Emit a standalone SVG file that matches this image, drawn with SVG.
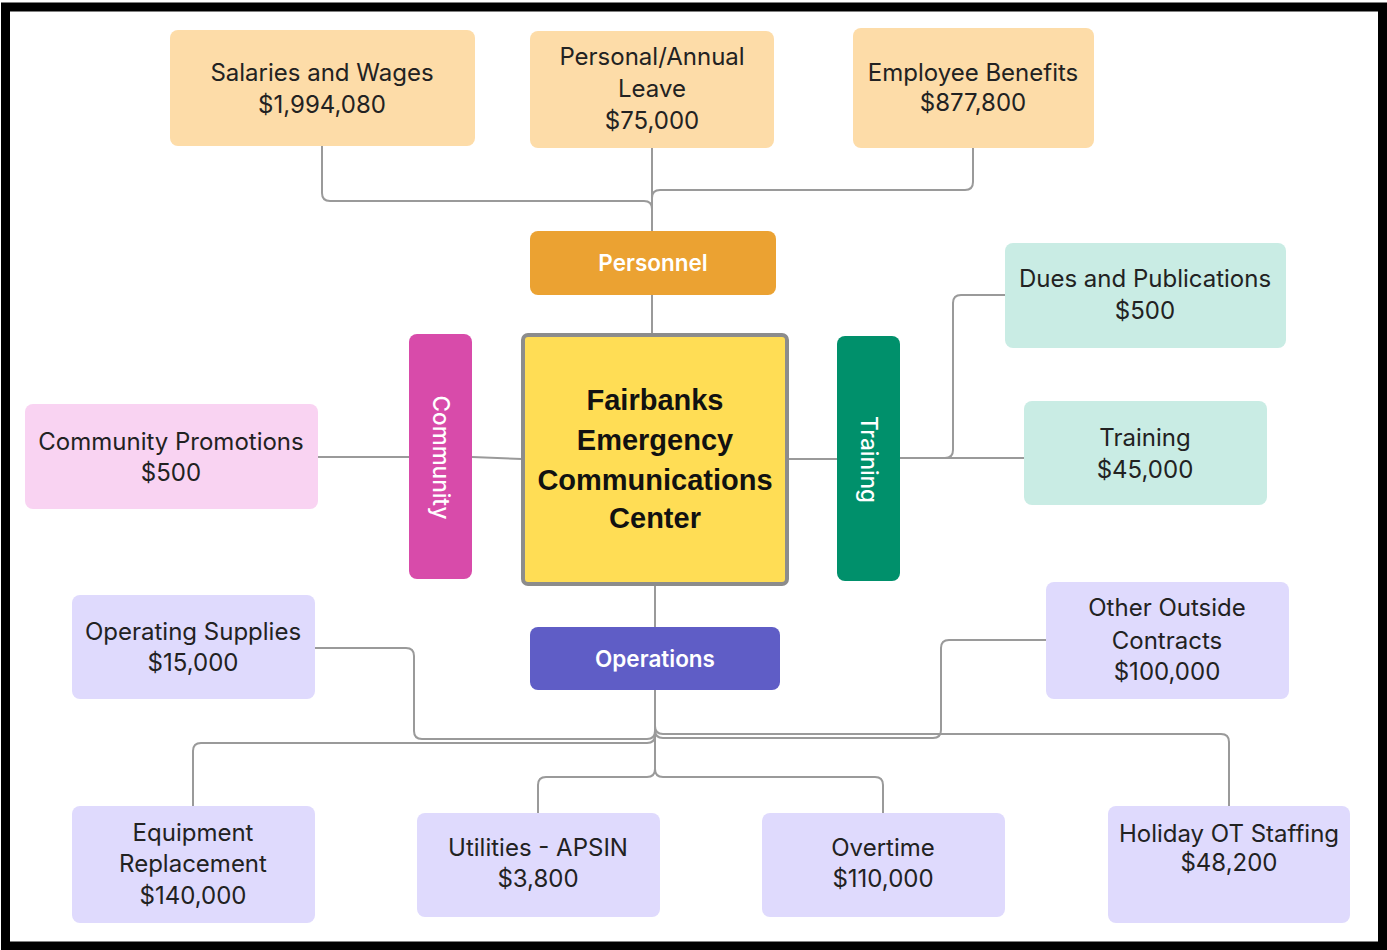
<svg xmlns="http://www.w3.org/2000/svg" width="1387" height="950" viewBox="0 0 1387 950">
<style>
.t{font-family:Inter,"Noto Sans","Liberation Sans",sans-serif;font-size:24px;fill:#222;text-anchor:middle}
.w{font-family:Inter,"Noto Sans","Liberation Sans",sans-serif;font-size:22.5px;font-weight:600;fill:#fff;text-anchor:middle}
.v{font-family:Inter,"Noto Sans","Liberation Sans",sans-serif;font-size:22.5px;font-weight:500;fill:#fff;text-anchor:middle}
.c{font-family:"Liberation Sans",Arial,sans-serif;font-size:29px;font-weight:bold;fill:#111;text-anchor:middle}
.pe{fill:#FDDCA8}
.mi{fill:#C9ECE4}
.pk{fill:#F9D3F2}
.la{fill:#DFDAFD}
.cn path{fill:none;stroke:#9a9a9a;stroke-width:2}
</style>
<rect x="0" y="0" width="1387" height="950" fill="#fff"/>
<rect x="5.5" y="7" width="1377" height="939" fill="none" stroke="#000" stroke-width="9"/>

<g class="cn" id="connectors">
<path d="M322,146 V193 Q322,201 330,201 H644 Q652,201 652,209 V231"/>
<path d="M652,148 V231"/>
<path d="M973,148 V182 Q973,190 965,190 H660 Q652,190 652,198 V231"/>
<path d="M652,295 V333"/>
<path d="M788,459 H837"/>
<path d="M900,458 H1024"/>
<path d="M900,458 H945 Q953,458 953,450 V303 Q953,295 961,295 H1005"/>
<path d="M522,459 L472,457"/>
<path d="M409,457 H318"/>
<path d="M655,586 V627"/>
<path d="M655,690 V731 Q655,739 647,739 H422 Q414,739 414,731 V656 Q414,648 406,648 H315"/>
<path d="M655,690 V735 Q655,743 647,743 H201 Q193,743 193,751 V806"/>
<path d="M655,690 V769 Q655,777 647,777 H546 Q538,777 538,785 V813"/>
<path d="M655,690 V769 Q655,777 663,777 H875 Q883,777 883,785 V813"/>
<path d="M655,690 V730 Q655,738 663,738 H933 Q941,738 941,730 V648 Q941,640 949,640 H1046"/>
<path d="M655,690 V726 Q655,734 663,734 H1221 Q1229,734 1229,742 V806"/>
</g>

<g id="salaries"><rect class="pe" x="170" y="30" width="305" height="116" rx="8"/>
<text class="t" x="322" y="81">Salaries and Wages</text><text class="t" x="322" y="113">$1,994,080</text></g>
<g id="leave"><rect class="pe" x="530" y="31" width="244" height="117" rx="8"/>
<text class="t" x="652" y="65">Personal/Annual</text><text class="t" x="652" y="97">Leave</text><text class="t" x="652" y="129">$75,000</text></g>
<g id="benefits"><rect class="pe" x="853" y="28" width="241" height="120" rx="8"/>
<text class="t" x="973" y="81">Employee Benefits</text><text class="t" x="973" y="111">$877,800</text></g>
<g id="personnel"><rect x="530" y="231" width="246" height="64" rx="8" fill="#EBA232"/>
<text class="w" x="653" y="271">Personnel</text></g>

<g id="dues"><rect class="mi" x="1005" y="243" width="281" height="105" rx="8"/>
<text class="t" x="1145" y="287">Dues and Publications</text><text class="t" x="1145" y="319">$500</text></g>
<g id="training-item"><rect class="mi" x="1024" y="401" width="243" height="104" rx="8"/>
<text class="t" x="1145" y="446">Training</text><text class="t" x="1145" y="478">$45,000</text></g>
<g id="training"><rect x="837" y="336" width="63" height="245" rx="8" fill="#00906B"/>
<text class="v" transform="translate(868.5,459.5) rotate(90)" x="0" y="8">Training</text></g>

<g id="community"><rect x="409" y="334" width="63" height="245" rx="8" fill="#D84BAA"/>
<text class="v" transform="translate(441,457.5) rotate(90)" x="0" y="8">Community</text></g>
<g id="promotions"><rect class="pk" x="25" y="404" width="293" height="105" rx="8"/>
<text class="t" x="171" y="450">Community Promotions</text><text class="t" x="171" y="481">$500</text></g>

<g id="center"><rect x="523" y="335" width="264" height="249" rx="5" fill="#FFDD55" stroke="#8c8c8c" stroke-width="4"/>
<text class="c" x="655" y="410">Fairbanks</text><text class="c" x="655" y="450">Emergency</text><text class="c" x="655" y="490">Communications</text><text class="c" x="655" y="528">Center</text></g>

<g id="operations"><rect x="530" y="627" width="250" height="63" rx="8" fill="#5F5DC6"/>
<text class="w" x="655" y="667">Operations</text></g>
<g id="supplies"><rect class="la" x="72" y="595" width="243" height="104" rx="8"/>
<text class="t" x="193" y="640">Operating Supplies</text><text class="t" x="193" y="671">$15,000</text></g>
<g id="contracts"><rect class="la" x="1046" y="582" width="243" height="117" rx="8"/>
<text class="t" x="1167" y="616">Other Outside</text><text class="t" x="1167" y="649">Contracts</text><text class="t" x="1167" y="680">$100,000</text></g>
<g id="equipment"><rect class="la" x="72" y="806" width="243" height="117" rx="8"/>
<text class="t" x="193" y="841">Equipment</text><text class="t" x="193" y="872">Replacement</text><text class="t" x="193" y="904">$140,000</text></g>
<g id="utilities"><rect class="la" x="417" y="813" width="243" height="104" rx="8"/>
<text class="t" x="538" y="856">Utilities - APSIN</text><text class="t" x="538" y="887">$3,800</text></g>
<g id="overtime"><rect class="la" x="762" y="813" width="243" height="104" rx="8"/>
<text class="t" x="883" y="856">Overtime</text><text class="t" x="883" y="887">$110,000</text></g>
<g id="holiday"><rect class="la" x="1108" y="806" width="242" height="117" rx="8"/>
<text class="t" x="1229" y="842">Holiday OT Staffing</text><text class="t" x="1229" y="871">$48,200</text></g>
</svg>
